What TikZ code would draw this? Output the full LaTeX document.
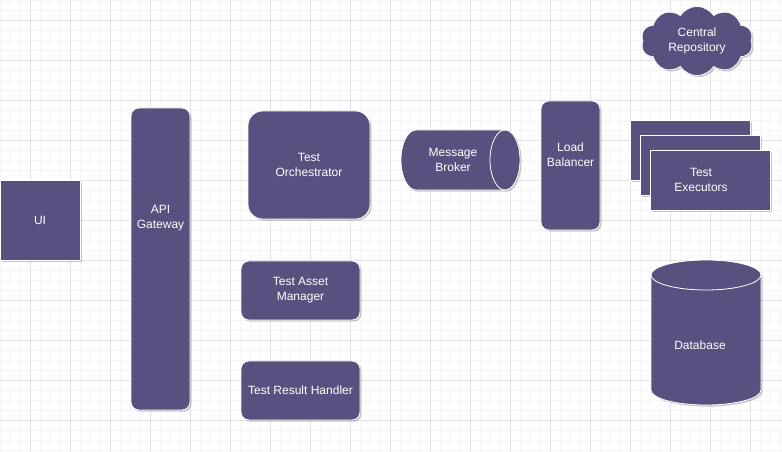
\documentclass[tikz,border=0pt]{standalone}
\usepackage{fontspec}
\setmainfont{Liberation Sans}
\usetikzlibrary{shapes.symbols,shadows}
\definecolor{boxfill}{RGB}{86,81,126}
\definecolor{gridminor}{RGB}{245,245,247}
\definecolor{gridmajor}{RGB}{226,226,230}
\tikzset{
        minorline/.style={draw=gridminor, line width=0.5pt},
        majorline/.style={draw=gridmajor, line width=0.6pt},
        comp/.style={draw=white, line width=0.6pt, fill=boxfill, text=white, align=center, inner sep=0pt,
          font=\fontsize{9}{11.25}\selectfont,
          drop shadow={shadow xshift=1.2pt, shadow yshift=-1.2pt, opacity=0.22, fill=black}},
        plainbox/.style={comp, rectangle},
        roundbox/.style={comp, rectangle, rounded corners=6pt},
        bigroundbox/.style={comp, rectangle, rounded corners=11pt},
        drumbody/.style={comp},
        drumrim/.style={draw=white, line width=0.6pt},
        puffy/.style={comp, cloud, cloud puffs=10, cloud puff arc=115, cloud ignores aspect},
        caption/.style={text=white, align=center, inner sep=0pt, font=\fontsize{9}{11.25}\selectfont}
          }
\begin{document}
\begin{tikzpicture}[x=0.75pt, y=-0.75pt]
        \useasboundingbox (0,0) rectangle (782,452);
        \fill[white] (0,0) rectangle (782,452);
        % grid
        \foreach \x in {0,10,...,780} \draw[minorline] (\x,0) -- (\x,452);
        \foreach \y in {0,10,...,450} \draw[minorline] (0,\y) -- (782,\y);
        \foreach \x in {30,70,...,750} \draw[majorline] (\x,0) -- (\x,452);
        \foreach \y in {20,60,...,420} \draw[majorline] (0,\y) -- (782,\y);

        \node[plainbox, minimum width=60pt, minimum height=60pt] (ui) at (40,220) {UI};
        \node[roundbox, minimum width=44.25pt, minimum height=226.5pt] (api) at (160.5,259) {};
        \node[caption] (apitext) at (160.5,218) {API\\Gateway};
        \node[bigroundbox, minimum width=91.5pt, minimum height=81pt] (orch) at (309,165) {Test\\Orchestrator};
        \node[roundbox, minimum width=89.25pt, minimum height=44.25pt] (asset) at (300.5,290.5) {Test Asset\\Manager};
        \node[roundbox, minimum width=89.25pt, minimum height=44.25pt] (result) at (300.5,390.5) {Test Result Handler};

        % message broker, lying cylinder
        \path[drumbody] (416,130) -- (505,130) arc[start angle=-90, end angle=90, x radius=15, y radius=30]
          -- (416,190) arc[start angle=90, end angle=270, x radius=15, y radius=30] -- cycle;
        \draw[drumrim] (505,130) arc[start angle=-90, end angle=-270, x radius=15, y radius=30];
        \node[caption] (broker) at (453,160) {Message\\Broker};

        \node[roundbox, minimum width=44.25pt, minimum height=96.75pt] (lb) at (570.5,165.5) {};
        \node[caption] (lbtext) at (570.5,155) {Load\\Balancer};

        % stacked executors
        \node[plainbox, minimum width=90pt, minimum height=45pt] (exa) at (690.5,150.5) {};
        \node[plainbox, minimum width=90pt, minimum height=45pt] (exb) at (700.5,165) {};
        \node[plainbox, minimum width=90pt, minimum height=45pt] (exc) at (710.5,180) {};
        \node[caption] (extext) at (701,180) {Test\\Executors};

        \node[puffy, minimum width=84pt, minimum height=52pt] (repo) at (697,41) {};
        \node[caption] (repotext) at (697,40.5) {Central\\Repository};

        % database, standing cylinder
        \path[drumbody] (651,275) arc[start angle=180, end angle=360, x radius=55, y radius=15]
          -- (761,390) arc[start angle=0, end angle=180, x radius=55, y radius=15] -- cycle;
        \draw[drumrim] (651,275) arc[start angle=180, end angle=0, x radius=55, y radius=15];
        \node[caption] (db) at (700,345) {Database};
\end{tikzpicture}
\end{document}
